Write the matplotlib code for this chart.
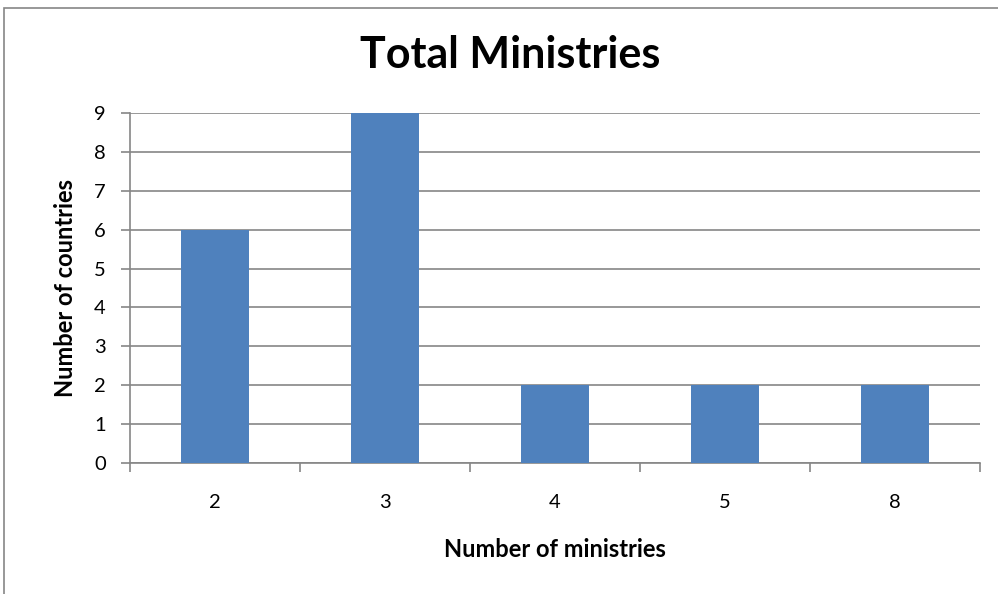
import matplotlib.pyplot as plt
import matplotlib.patches as mpatches
import numpy as np

categories = ['2', '3', '4', '5', '8']
counts = [6, 9, 2, 2, 2]

plt.rcParams['font.family'] = ['Lato', 'DejaVu Sans']
grey = '#868686'

fig = plt.figure(figsize=(9.98, 5.94), dpi=100)

# outer chart frame (runs off the page on the right and bottom)
fig.patches.append(mpatches.Rectangle((4 / 998, -0.1), 1.2, (594 - 8) / 594 + 0.1,
                                      transform=fig.transFigure, fill=False,
                                      edgecolor=grey, linewidth=1.2))

ax = fig.add_axes([130 / 998, 131 / 594, 850 / 998, 350 / 594])
x = np.arange(len(categories))
ax.bar(x, counts, width=0.4, color='#4F81BD', zorder=3)

ax.set_xlim(-0.5, len(categories) - 0.5)
ax.set_ylim(0, 9)
ax.set_yticks(range(0, 10))
ax.yaxis.grid(True, color=grey, linewidth=1.2)
ax.set_axisbelow(True)

ax.set_xticks(x)
ax.set_xticklabels(categories)
ax.set_xticks(np.arange(-0.5, len(categories)), minor=True)
ax.tick_params(axis='x', which='major', length=0, pad=22, labelsize=14.5)
ax.tick_params(axis='x', which='minor', length=6.5, width=1.2, color=grey, direction='out')
ax.tick_params(axis='y', length=6.5, width=1.2, color=grey, pad=11, labelsize=14.5)

for side in ['top', 'right']:
    ax.spines[side].set_visible(False)
for side in ['left', 'bottom']:
    ax.spines[side].set_color(grey)
    ax.spines[side].set_linewidth(1.2)

ax.set_xlabel('Number of ministries', fontsize=17, fontweight='bold', labelpad=20)
ax.set_ylabel('Number of countries', fontsize=17, fontweight='bold', labelpad=12)
fig.text(510 / 998, 1 - 55 / 594, 'Total Ministries', ha='center', va='center',
         fontsize=31, fontweight='bold')

fig.savefig('out.png', dpi=100)
